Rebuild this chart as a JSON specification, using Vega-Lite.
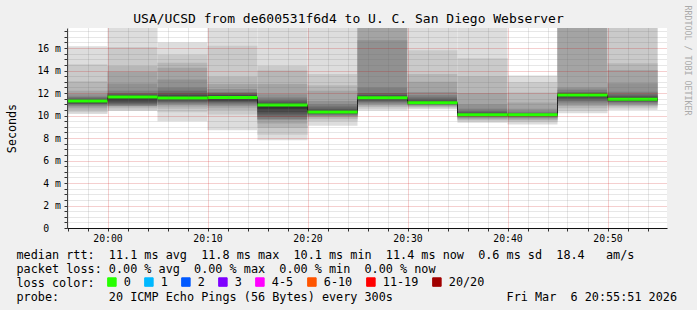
{
  "$schema": "https://vega.github.io/schema/vega-lite/v6.json",
  "width": 600,
  "height": 200,
  "autosize": {"type": "none"},
  "padding": {"left": 67, "top": 28, "right": 30, "bottom": 82},
  "background": "#f0f0f0",
  "config": {
    "view": {"fill": "white", "stroke": null},
    "font": "DejaVu Sans Mono",
    "axis": {"labelOverlap": false}
  },
  "title": {
    "text": "USA/UCSD from de600531f6d4 to U. C. San Diego Webserver",
    "font": "DejaVu Sans Mono",
    "fontSize": 13,
    "fontWeight": "normal",
    "color": "#000000",
    "anchor": "middle",
    "frame": "group",
    "dx": -18.5,
    "offset": 0,
    "dy": 21
  },
  "datasets": {
    "smoke": [
      {"t0":"2026-03-06T19:55:00","t1":"2026-03-06T20:00:00","band":1,"lo":10.13,"hi":16.15},
      {"t0":"2026-03-06T19:55:00","t1":"2026-03-06T20:00:00","band":2,"lo":10.3,"hi":14.55},
      {"t0":"2026-03-06T19:55:00","t1":"2026-03-06T20:00:00","band":3,"lo":10.5,"hi":13.05},
      {"t0":"2026-03-06T19:55:00","t1":"2026-03-06T20:00:00","band":4,"lo":10.65,"hi":12.2},
      {"t0":"2026-03-06T19:55:00","t1":"2026-03-06T20:00:00","band":5,"lo":10.8,"hi":11.9},
      {"t0":"2026-03-06T19:55:00","t1":"2026-03-06T20:00:00","band":6,"lo":10.9,"hi":11.7},
      {"t0":"2026-03-06T19:55:00","t1":"2026-03-06T20:00:00","band":7,"lo":11.0,"hi":11.6},
      {"t0":"2026-03-06T19:55:00","t1":"2026-03-06T20:00:00","band":8,"lo":11.05,"hi":11.5},
      {"t0":"2026-03-06T19:55:00","t1":"2026-03-06T20:00:00","band":9,"lo":11.1,"hi":11.4},
      {"t0":"2026-03-06T19:55:00","t1":"2026-03-06T20:00:00","band":10,"lo":11.2,"hi":11.35},

      {"t0":"2026-03-06T20:00:00","t1":"2026-03-06T20:05:00","band":1,"lo":10.4,"hi":19},
      {"t0":"2026-03-06T20:00:00","t1":"2026-03-06T20:05:00","band":2,"lo":10.5,"hi":16.1},
      {"t0":"2026-03-06T20:00:00","t1":"2026-03-06T20:05:00","band":3,"lo":10.65,"hi":14.4},
      {"t0":"2026-03-06T20:00:00","t1":"2026-03-06T20:05:00","band":4,"lo":10.8,"hi":13.9},
      {"t0":"2026-03-06T20:00:00","t1":"2026-03-06T20:05:00","band":5,"lo":10.85,"hi":12.85},
      {"t0":"2026-03-06T20:00:00","t1":"2026-03-06T20:05:00","band":6,"lo":10.9,"hi":12.2},
      {"t0":"2026-03-06T20:00:00","t1":"2026-03-06T20:05:00","band":7,"lo":11.0,"hi":12.0},
      {"t0":"2026-03-06T20:00:00","t1":"2026-03-06T20:05:00","band":8,"lo":11.1,"hi":11.9},
      {"t0":"2026-03-06T20:00:00","t1":"2026-03-06T20:05:00","band":9,"lo":11.25,"hi":11.8},
      {"t0":"2026-03-06T20:00:00","t1":"2026-03-06T20:05:00","band":10,"lo":11.4,"hi":11.7},

      {"t0":"2026-03-06T20:05:00","t1":"2026-03-06T20:10:00","band":1,"lo":9.5,"hi":16.5},
      {"t0":"2026-03-06T20:05:00","t1":"2026-03-06T20:10:00","band":2,"lo":10.3,"hi":15.4},
      {"t0":"2026-03-06T20:05:00","t1":"2026-03-06T20:10:00","band":3,"lo":10.6,"hi":14.7},
      {"t0":"2026-03-06T20:05:00","t1":"2026-03-06T20:10:00","band":4,"lo":10.8,"hi":14.25},
      {"t0":"2026-03-06T20:05:00","t1":"2026-03-06T20:10:00","band":5,"lo":10.95,"hi":13.2},
      {"t0":"2026-03-06T20:05:00","t1":"2026-03-06T20:10:00","band":6,"lo":11.05,"hi":12.5},
      {"t0":"2026-03-06T20:05:00","t1":"2026-03-06T20:10:00","band":7,"lo":11.15,"hi":12.2},
      {"t0":"2026-03-06T20:05:00","t1":"2026-03-06T20:10:00","band":8,"lo":11.25,"hi":11.95},
      {"t0":"2026-03-06T20:05:00","t1":"2026-03-06T20:10:00","band":9,"lo":11.35,"hi":11.8},
      {"t0":"2026-03-06T20:05:00","t1":"2026-03-06T20:10:00","band":10,"lo":11.45,"hi":11.65},

      {"t0":"2026-03-06T20:10:00","t1":"2026-03-06T20:15:00","band":1,"lo":8.7,"hi":19},
      {"t0":"2026-03-06T20:10:00","t1":"2026-03-06T20:15:00","band":2,"lo":10.1,"hi":16.2},
      {"t0":"2026-03-06T20:10:00","t1":"2026-03-06T20:15:00","band":3,"lo":10.5,"hi":13.45},
      {"t0":"2026-03-06T20:10:00","t1":"2026-03-06T20:15:00","band":4,"lo":10.7,"hi":12.8},
      {"t0":"2026-03-06T20:10:00","t1":"2026-03-06T20:15:00","band":5,"lo":10.85,"hi":12.35},
      {"t0":"2026-03-06T20:10:00","t1":"2026-03-06T20:15:00","band":6,"lo":11.0,"hi":12.1},
      {"t0":"2026-03-06T20:10:00","t1":"2026-03-06T20:15:00","band":7,"lo":11.1,"hi":12.0},
      {"t0":"2026-03-06T20:10:00","t1":"2026-03-06T20:15:00","band":8,"lo":11.2,"hi":11.9},
      {"t0":"2026-03-06T20:10:00","t1":"2026-03-06T20:15:00","band":9,"lo":11.3,"hi":11.8},
      {"t0":"2026-03-06T20:10:00","t1":"2026-03-06T20:15:00","band":10,"lo":11.45,"hi":11.7},

      {"t0":"2026-03-06T20:15:00","t1":"2026-03-06T20:20:00","band":1,"lo":7.8,"hi":19},
      {"t0":"2026-03-06T20:15:00","t1":"2026-03-06T20:20:00","band":2,"lo":8.3,"hi":14.4},
      {"t0":"2026-03-06T20:15:00","t1":"2026-03-06T20:20:00","band":3,"lo":8.9,"hi":14.0},
      {"t0":"2026-03-06T20:15:00","t1":"2026-03-06T20:20:00","band":4,"lo":9.3,"hi":12.8},
      {"t0":"2026-03-06T20:15:00","t1":"2026-03-06T20:20:00","band":5,"lo":9.6,"hi":11.9},
      {"t0":"2026-03-06T20:15:00","t1":"2026-03-06T20:20:00","band":6,"lo":9.7,"hi":11.6},
      {"t0":"2026-03-06T20:15:00","t1":"2026-03-06T20:20:00","band":7,"lo":9.9,"hi":11.4},
      {"t0":"2026-03-06T20:15:00","t1":"2026-03-06T20:20:00","band":8,"lo":10.1,"hi":11.25},
      {"t0":"2026-03-06T20:15:00","t1":"2026-03-06T20:20:00","band":9,"lo":10.3,"hi":11.1},
      {"t0":"2026-03-06T20:15:00","t1":"2026-03-06T20:20:00","band":10,"lo":10.6,"hi":11.0},

      {"t0":"2026-03-06T20:20:00","t1":"2026-03-06T20:25:00","band":1,"lo":9.1,"hi":19},
      {"t0":"2026-03-06T20:20:00","t1":"2026-03-06T20:25:00","band":2,"lo":9.5,"hi":13.7},
      {"t0":"2026-03-06T20:20:00","t1":"2026-03-06T20:25:00","band":3,"lo":9.7,"hi":12.7},
      {"t0":"2026-03-06T20:20:00","t1":"2026-03-06T20:25:00","band":4,"lo":9.85,"hi":12.2},
      {"t0":"2026-03-06T20:20:00","t1":"2026-03-06T20:25:00","band":5,"lo":9.95,"hi":11.3},
      {"t0":"2026-03-06T20:20:00","t1":"2026-03-06T20:25:00","band":6,"lo":10.0,"hi":11.0},
      {"t0":"2026-03-06T20:20:00","t1":"2026-03-06T20:25:00","band":7,"lo":10.1,"hi":10.8},
      {"t0":"2026-03-06T20:20:00","t1":"2026-03-06T20:25:00","band":8,"lo":10.15,"hi":10.6},
      {"t0":"2026-03-06T20:20:00","t1":"2026-03-06T20:25:00","band":9,"lo":10.2,"hi":10.5},
      {"t0":"2026-03-06T20:20:00","t1":"2026-03-06T20:25:00","band":10,"lo":10.25,"hi":10.4},

      {"t0":"2026-03-06T20:25:00","t1":"2026-03-06T20:30:00","band":1,"lo":10.45,"hi":20},
      {"t0":"2026-03-06T20:25:00","t1":"2026-03-06T20:30:00","band":2,"lo":10.6,"hi":20},
      {"t0":"2026-03-06T20:25:00","t1":"2026-03-06T20:30:00","band":3,"lo":10.75,"hi":20},
      {"t0":"2026-03-06T20:25:00","t1":"2026-03-06T20:30:00","band":4,"lo":10.9,"hi":19},
      {"t0":"2026-03-06T20:25:00","t1":"2026-03-06T20:30:00","band":5,"lo":11.0,"hi":16.7},
      {"t0":"2026-03-06T20:25:00","t1":"2026-03-06T20:30:00","band":6,"lo":11.1,"hi":12.5},
      {"t0":"2026-03-06T20:25:00","t1":"2026-03-06T20:30:00","band":7,"lo":11.2,"hi":12.0},
      {"t0":"2026-03-06T20:25:00","t1":"2026-03-06T20:30:00","band":8,"lo":11.3,"hi":11.85},
      {"t0":"2026-03-06T20:25:00","t1":"2026-03-06T20:30:00","band":9,"lo":11.4,"hi":11.75},
      {"t0":"2026-03-06T20:25:00","t1":"2026-03-06T20:30:00","band":10,"lo":11.5,"hi":11.65},

      {"t0":"2026-03-06T20:30:00","t1":"2026-03-06T20:35:00","band":1,"lo":10.55,"hi":19},
      {"t0":"2026-03-06T20:30:00","t1":"2026-03-06T20:35:00","band":2,"lo":10.65,"hi":15.8},
      {"t0":"2026-03-06T20:30:00","t1":"2026-03-06T20:35:00","band":3,"lo":10.75,"hi":13.7},
      {"t0":"2026-03-06T20:30:00","t1":"2026-03-06T20:35:00","band":4,"lo":10.82,"hi":13.0},
      {"t0":"2026-03-06T20:30:00","t1":"2026-03-06T20:35:00","band":5,"lo":10.88,"hi":12.1},
      {"t0":"2026-03-06T20:30:00","t1":"2026-03-06T20:35:00","band":6,"lo":10.93,"hi":11.8},
      {"t0":"2026-03-06T20:30:00","t1":"2026-03-06T20:35:00","band":7,"lo":10.98,"hi":11.6},
      {"t0":"2026-03-06T20:30:00","t1":"2026-03-06T20:35:00","band":8,"lo":11.02,"hi":11.45},
      {"t0":"2026-03-06T20:30:00","t1":"2026-03-06T20:35:00","band":9,"lo":11.06,"hi":11.3},
      {"t0":"2026-03-06T20:30:00","t1":"2026-03-06T20:35:00","band":10,"lo":11.1,"hi":11.2},

      {"t0":"2026-03-06T20:35:00","t1":"2026-03-06T20:40:00","band":1,"lo":9.35,"hi":19},
      {"t0":"2026-03-06T20:35:00","t1":"2026-03-06T20:40:00","band":2,"lo":9.5,"hi":15.1},
      {"t0":"2026-03-06T20:35:00","t1":"2026-03-06T20:40:00","band":3,"lo":9.6,"hi":13.5},
      {"t0":"2026-03-06T20:35:00","t1":"2026-03-06T20:40:00","band":4,"lo":9.7,"hi":12.0},
      {"t0":"2026-03-06T20:35:00","t1":"2026-03-06T20:40:00","band":5,"lo":9.8,"hi":11.0},
      {"t0":"2026-03-06T20:35:00","t1":"2026-03-06T20:40:00","band":6,"lo":9.85,"hi":10.6},
      {"t0":"2026-03-06T20:35:00","t1":"2026-03-06T20:40:00","band":7,"lo":9.9,"hi":10.4},
      {"t0":"2026-03-06T20:35:00","t1":"2026-03-06T20:40:00","band":8,"lo":9.95,"hi":10.3},
      {"t0":"2026-03-06T20:35:00","t1":"2026-03-06T20:40:00","band":9,"lo":9.98,"hi":10.2},
      {"t0":"2026-03-06T20:35:00","t1":"2026-03-06T20:40:00","band":10,"lo":10.0,"hi":10.12},

      {"t0":"2026-03-06T20:40:00","t1":"2026-03-06T20:45:00","band":1,"lo":9.2,"hi":13.55},
      {"t0":"2026-03-06T20:40:00","t1":"2026-03-06T20:45:00","band":2,"lo":9.4,"hi":12.95},
      {"t0":"2026-03-06T20:40:00","t1":"2026-03-06T20:45:00","band":3,"lo":9.55,"hi":12.05},
      {"t0":"2026-03-06T20:40:00","t1":"2026-03-06T20:45:00","band":4,"lo":9.65,"hi":11.15},
      {"t0":"2026-03-06T20:40:00","t1":"2026-03-06T20:45:00","band":5,"lo":9.75,"hi":10.6},
      {"t0":"2026-03-06T20:40:00","t1":"2026-03-06T20:45:00","band":6,"lo":9.82,"hi":10.35},
      {"t0":"2026-03-06T20:40:00","t1":"2026-03-06T20:45:00","band":7,"lo":9.88,"hi":10.25},
      {"t0":"2026-03-06T20:40:00","t1":"2026-03-06T20:45:00","band":8,"lo":9.93,"hi":10.18},
      {"t0":"2026-03-06T20:40:00","t1":"2026-03-06T20:45:00","band":9,"lo":9.97,"hi":10.12},
      {"t0":"2026-03-06T20:40:00","t1":"2026-03-06T20:45:00","band":10,"lo":10.0,"hi":10.09},

      {"t0":"2026-03-06T20:45:00","t1":"2026-03-06T20:50:00","band":1,"lo":10.2,"hi":20},
      {"t0":"2026-03-06T20:45:00","t1":"2026-03-06T20:50:00","band":2,"lo":10.45,"hi":20},
      {"t0":"2026-03-06T20:45:00","t1":"2026-03-06T20:50:00","band":3,"lo":10.65,"hi":20},
      {"t0":"2026-03-06T20:45:00","t1":"2026-03-06T20:50:00","band":4,"lo":10.85,"hi":19},
      {"t0":"2026-03-06T20:45:00","t1":"2026-03-06T20:50:00","band":5,"lo":11.0,"hi":12.5},
      {"t0":"2026-03-06T20:45:00","t1":"2026-03-06T20:50:00","band":6,"lo":11.15,"hi":12.3},
      {"t0":"2026-03-06T20:45:00","t1":"2026-03-06T20:50:00","band":7,"lo":11.3,"hi":12.1},
      {"t0":"2026-03-06T20:45:00","t1":"2026-03-06T20:50:00","band":8,"lo":11.45,"hi":12.0},
      {"t0":"2026-03-06T20:45:00","t1":"2026-03-06T20:50:00","band":9,"lo":11.6,"hi":11.95},
      {"t0":"2026-03-06T20:45:00","t1":"2026-03-06T20:50:00","band":10,"lo":11.75,"hi":11.9},

      {"t0":"2026-03-06T20:50:00","t1":"2026-03-06T20:55:00","band":1,"lo":10.5,"hi":19},
      {"t0":"2026-03-06T20:50:00","t1":"2026-03-06T20:55:00","band":2,"lo":10.65,"hi":18.5},
      {"t0":"2026-03-06T20:50:00","t1":"2026-03-06T20:55:00","band":3,"lo":10.8,"hi":14.65},
      {"t0":"2026-03-06T20:50:00","t1":"2026-03-06T20:55:00","band":4,"lo":10.9,"hi":14.05},
      {"t0":"2026-03-06T20:50:00","t1":"2026-03-06T20:55:00","band":5,"lo":11.0,"hi":12.87},
      {"t0":"2026-03-06T20:50:00","t1":"2026-03-06T20:55:00","band":6,"lo":11.1,"hi":12.12},
      {"t0":"2026-03-06T20:50:00","t1":"2026-03-06T20:55:00","band":7,"lo":11.2,"hi":11.9},
      {"t0":"2026-03-06T20:50:00","t1":"2026-03-06T20:55:00","band":8,"lo":11.25,"hi":11.75},
      {"t0":"2026-03-06T20:50:00","t1":"2026-03-06T20:55:00","band":9,"lo":11.3,"hi":11.6},
      {"t0":"2026-03-06T20:50:00","t1":"2026-03-06T20:55:00","band":10,"lo":11.35,"hi":11.5}
    ],
    "med": [
      {"t0":"2026-03-06T19:55:00","t1":"2026-03-06T20:00:00","med":11.29,"loss":"0"},
      {"t0":"2026-03-06T20:00:00","t1":"2026-03-06T20:05:00","med":11.64,"loss":"0"},
      {"t0":"2026-03-06T20:05:00","t1":"2026-03-06T20:10:00","med":11.56,"loss":"0"},
      {"t0":"2026-03-06T20:10:00","t1":"2026-03-06T20:15:00","med":11.6,"loss":"0"},
      {"t0":"2026-03-06T20:15:00","t1":"2026-03-06T20:20:00","med":10.93,"loss":"0"},
      {"t0":"2026-03-06T20:20:00","t1":"2026-03-06T20:25:00","med":10.31,"loss":"0"},
      {"t0":"2026-03-06T20:25:00","t1":"2026-03-06T20:30:00","med":11.59,"loss":"0"},
      {"t0":"2026-03-06T20:30:00","t1":"2026-03-06T20:35:00","med":11.14,"loss":"0"},
      {"t0":"2026-03-06T20:35:00","t1":"2026-03-06T20:40:00","med":10.06,"loss":"0"},
      {"t0":"2026-03-06T20:40:00","t1":"2026-03-06T20:45:00","med":10.06,"loss":"0"},
      {"t0":"2026-03-06T20:45:00","t1":"2026-03-06T20:50:00","med":11.82,"loss":"0"},
      {"t0":"2026-03-06T20:50:00","t1":"2026-03-06T20:55:00","med":11.44,"loss":"0"}
    ],
    "medline": [
      {"t":"2026-03-06T19:55:00","med":11.29},
      {"t":"2026-03-06T20:00:00","med":11.64},
      {"t":"2026-03-06T20:05:00","med":11.56},
      {"t":"2026-03-06T20:10:00","med":11.6},
      {"t":"2026-03-06T20:15:00","med":10.93},
      {"t":"2026-03-06T20:20:00","med":10.31},
      {"t":"2026-03-06T20:25:00","med":11.59},
      {"t":"2026-03-06T20:30:00","med":11.14},
      {"t":"2026-03-06T20:35:00","med":10.06},
      {"t":"2026-03-06T20:40:00","med":10.06},
      {"t":"2026-03-06T20:45:00","med":11.82},
      {"t":"2026-03-06T20:50:00","med":11.44},
      {"t":"2026-03-06T20:55:00","med":11.44}
    ]
  },
  "resolve": {"axis": {"x": "independent", "y": "independent"}, "scale": {"color": "independent"}},
  "layer": [
    {
      "data": {"name": "smoke"},
      "mark": {"type": "rect", "clip": true},
      "encoding": {
        "x": {
          "field": "t0", "type": "temporal",
          "scale": {"domain": [
            {"year": 2026, "month": 3, "date": 6, "hours": 19, "minutes": 55, "seconds": 57},
            {"year": 2026, "month": 3, "date": 6, "hours": 20, "minutes": 55, "seconds": 57}
          ]},
          "axis": {
            "orient": "bottom",
            "values": [
              {"year": 2026, "month": 3, "date": 6, "hours": 19, "minutes": 56},
              {"year": 2026, "month": 3, "date": 6, "hours": 19, "minutes": 58},
              {"year": 2026, "month": 3, "date": 6, "hours": 20, "minutes": 0},
              {"year": 2026, "month": 3, "date": 6, "hours": 20, "minutes": 2},
              {"year": 2026, "month": 3, "date": 6, "hours": 20, "minutes": 4},
              {"year": 2026, "month": 3, "date": 6, "hours": 20, "minutes": 6},
              {"year": 2026, "month": 3, "date": 6, "hours": 20, "minutes": 8},
              {"year": 2026, "month": 3, "date": 6, "hours": 20, "minutes": 10},
              {"year": 2026, "month": 3, "date": 6, "hours": 20, "minutes": 12},
              {"year": 2026, "month": 3, "date": 6, "hours": 20, "minutes": 14},
              {"year": 2026, "month": 3, "date": 6, "hours": 20, "minutes": 16},
              {"year": 2026, "month": 3, "date": 6, "hours": 20, "minutes": 18},
              {"year": 2026, "month": 3, "date": 6, "hours": 20, "minutes": 20},
              {"year": 2026, "month": 3, "date": 6, "hours": 20, "minutes": 22},
              {"year": 2026, "month": 3, "date": 6, "hours": 20, "minutes": 24},
              {"year": 2026, "month": 3, "date": 6, "hours": 20, "minutes": 26},
              {"year": 2026, "month": 3, "date": 6, "hours": 20, "minutes": 28},
              {"year": 2026, "month": 3, "date": 6, "hours": 20, "minutes": 30},
              {"year": 2026, "month": 3, "date": 6, "hours": 20, "minutes": 32},
              {"year": 2026, "month": 3, "date": 6, "hours": 20, "minutes": 34},
              {"year": 2026, "month": 3, "date": 6, "hours": 20, "minutes": 36},
              {"year": 2026, "month": 3, "date": 6, "hours": 20, "minutes": 38},
              {"year": 2026, "month": 3, "date": 6, "hours": 20, "minutes": 40},
              {"year": 2026, "month": 3, "date": 6, "hours": 20, "minutes": 42},
              {"year": 2026, "month": 3, "date": 6, "hours": 20, "minutes": 44},
              {"year": 2026, "month": 3, "date": 6, "hours": 20, "minutes": 46},
              {"year": 2026, "month": 3, "date": 6, "hours": 20, "minutes": 48},
              {"year": 2026, "month": 3, "date": 6, "hours": 20, "minutes": 50},
              {"year": 2026, "month": 3, "date": 6, "hours": 20, "minutes": 52},
              {"year": 2026, "month": 3, "date": 6, "hours": 20, "minutes": 54}
            ],
            "labelExpr": "minutes(datum.value) % 10 === 0 ? timeFormat(datum.value, '%H:%M') : ''",
            "labelOverlap": false,
            "labelFlush": false,
            "labelFont": "DejaVu Sans Mono",
            "labelFontSize": 9.8,
            "labelColor": "#000000",
            "labelPadding": 2,
            "tickSize": 3,
            "tickColor": "#333333",
            "domainColor": "#111111",
            "grid": true,
            "gridDash": [1, 1],
            "gridColor": {"condition": {"test": "minutes(datum.value) % 10 === 0", "value": "rgba(200,0,0,0.38)"}, "value": "rgba(110,110,110,0.32)"},
            "zindex": 1,
            "title": [
              "median rtt:\u00a0\u00a011.1 ms avg\u00a0\u00a011.8 ms max\u00a0\u00a010.1 ms min\u00a0\u00a011.4 ms now\u00a0\u00a00.6 ms sd\u00a0\u00a018.4\u00a0\u00a0\u00a0am/s",
              "packet loss: 0.00 % avg\u00a0\u00a00.00 % max\u00a0\u00a00.00 % min\u00a0\u00a00.00 % now",
              "loss color:",
              "probe:\u00a0\u00a0\u00a0\u00a0\u00a0\u00a0\u00a020 ICMP Echo Pings (56 Bytes) every 300s\u00a0\u00a0\u00a0\u00a0\u00a0\u00a0\u00a0\u00a0\u00a0\u00a0\u00a0\u00a0\u00a0\u00a0\u00a0\u00a0Fri Mar\u00a0\u00a06 20:55:51 2026"
            ],
            "titleFont": "DejaVu Sans Mono",
            "titleFontSize": 11.8,
            "titleFontWeight": "normal",
            "titleColor": "#000000",
            "titleAlign": "left",
            "titleAnchor": "start",
            "titleBaseline": "top",
            "titleLineHeight": 14,
            "titleX": -51,
            "titleY": 21
          }
        },
        "x2": {"field": "t1"},
        "y": {
          "field": "lo", "type": "quantitative",
          "scale": {"domain": [0, 17.78], "nice": false, "zero": false},
          "axis": {
            "orient": "left",
            "values": [0,0.5,1,1.5,2,2.5,3,3.5,4,4.5,5,5.5,6,6.5,7,7.5,8,8.5,9,9.5,10,10.5,11,11.5,12,12.5,13,13.5,14,14.5,15,15.5,16,16.5,17,17.5],
            "labelExpr": "datum.value === 0 ? '0' : (datum.value % 2 === 0 ? datum.value + ' m' : '')",
            "labelOverlap": false,
            "labelFlush": false,
            "labelFont": "DejaVu Sans Mono",
            "labelFontSize": 9.8,
            "labelColor": "#000000",
            "labelPadding": {"condition": {"test": "datum.value === 0", "value": 15.3}, "value": 3.5},
            "tickSize": 3,
            "tickColor": "#333333",
            "domainColor": "#444444",
            "grid": true,
            "gridDash": [1, 1],
            "gridColor": {"condition": {"test": "datum.value % 2 === 0", "value": "rgba(200,0,0,0.38)"}, "value": "rgba(110,110,110,0.32)"},
            "zindex": 1,
            "title": "Seconds",
            "titleFont": "DejaVu Sans Mono",
            "titleFontSize": 11.7,
            "titleFontWeight": "normal",
            "titleColor": "#000000",
            "titleX": -56,
            "titleY": 100,
            "titleAlign": "center",
            "titleBaseline": "middle"
          }
        },
        "y2": {"field": "hi"},
        "color": {
          "field": "band", "type": "ordinal",
          "scale": {"domain": [1,2,3,4,5,6,7,8,9,10], "range": ["#dddddd","#cacaca","#b7b7b7","#a4a4a4","#919191","#7e7e7e","#6b6b6b","#585858","#454545","#323232"]},
          "legend": null
        }
      }
    },
    {
      "data": {"name": "medline"},
      "mark": {"type": "line", "interpolate": "step-after", "color": "#202020", "strokeWidth": 1, "clip": true},
      "encoding": {
        "x": {"field": "t", "type": "temporal", "axis": null},
        "y": {
          "field": "med", "type": "quantitative",
          "axis": {
            "orient": "right",
            "title": "RRDTOOL / TOBI OETIKER",
            "labels": false,
            "ticks": false,
            "domain": false,
            "grid": false,
            "titleAngle": 90,
            "titleX": 19.7,
            "titleY": 32,
            "titleAlign": "center",
            "titleBaseline": "middle",
            "titleFont": "DejaVu Sans Mono",
            "titleFontSize": 8.3,
            "titleFontWeight": "normal",
            "titleColor": "#aaaaaa"
          }
        }
      }
    },
    {
      "data": {"name": "med"},
      "mark": {"type": "rule", "strokeWidth": 3, "clip": true},
      "encoding": {
        "x": {"field": "t0", "type": "temporal", "axis": null},
        "x2": {"field": "t1"},
        "y": {"field": "med", "type": "quantitative", "axis": null},
        "color": {
          "field": "loss", "type": "nominal",
          "scale": {"domain": ["0","1","2","3","4-5","6-10","11-19","20/20"], "range": ["#26ff00","#00b8ff","#0059ff","#7e00ff","#ff00ff","#ff5500","#ff0000","#a10000"]},
          "legend": {
            "orient": "none",
            "legendX": 39,
            "legendY": 248,
            "direction": "horizontal",
            "title": null,
            "labelFont": "DejaVu Sans Mono",
            "labelFontSize": 11.8,
            "labelColor": "#000000",
            "labelOffset": 6,
            "columnPadding": 11,
            "symbolType": "square",
            "symbolSize": 72,
            "padding": 0,
            "offset": 0,
            "encode": {
              "symbols": {
                "update": {
                  "fill": [
                    {"test": "datum.value === '1'", "value": "#00b8ff"},
                    {"test": "datum.value === '2'", "value": "#0059ff"},
                    {"test": "datum.value === '3'", "value": "#7e00ff"},
                    {"test": "datum.value === '4-5'", "value": "#ff00ff"},
                    {"test": "datum.value === '6-10'", "value": "#ff5500"},
                    {"test": "datum.value === '11-19'", "value": "#ff0000"},
                    {"test": "datum.value === '20/20'", "value": "#a10000"},
                    {"value": "#26ff00"}
                  ],
                  "fillOpacity": {"value": 1},
                  "stroke": {"value": "#000000"},
                  "strokeWidth": {"value": 1}
                }
              }
            }
          }
        }
      }
    }
  ]
}
